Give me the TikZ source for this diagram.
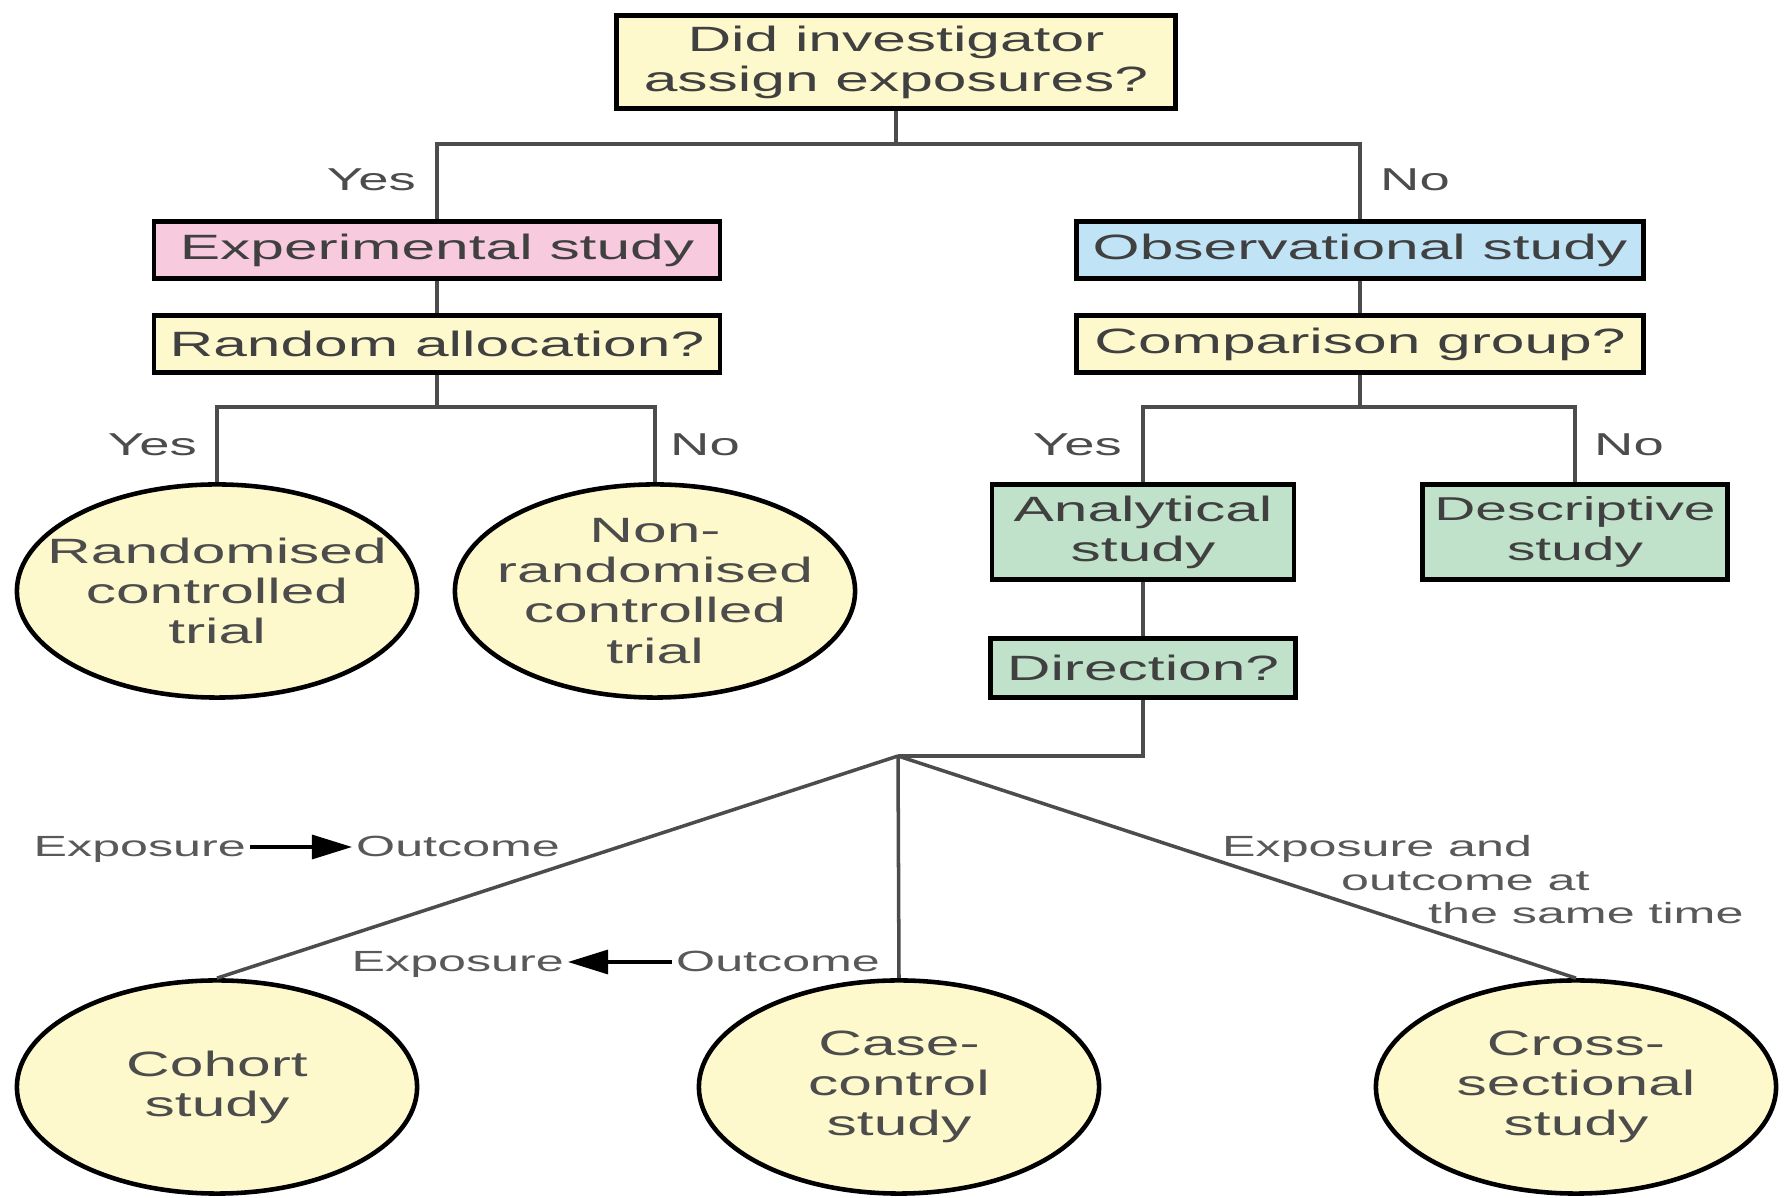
\documentclass[tikz,border=0pt]{standalone}
\usepackage{fontspec}
\setmainfont[FakeStretch=1.72]{Liberation Sans}
\usetikzlibrary{shapes.geometric,arrows.meta}

\definecolor{qyellow}{RGB}{253,249,204}
\definecolor{exppink}{RGB}{248,202,222}
\definecolor{obsblue}{RGB}{192,228,246}
\definecolor{anagreen}{RGB}{192,226,202}

\tikzset{
    qbox/.style={draw=black, line width=1.3pt, fill=qyellow, inner sep=1pt,
        minimum height=0.57cm, align=center, text=black!75,
        font=\fontsize{10}{11.4}\selectfont},
    studycirc/.style={ellipse, draw=black, line width=1.3pt, fill=qyellow,
        minimum width=4cm, minimum height=2.13cm, inner xsep=-0.7cm,
        inner ysep=-0.4cm, align=center, text=black!70,
        font=\fontsize{10}{11.4}\selectfont},
    link/.style={line width=1pt, draw=black!70},
    branch/.style={inner sep=1pt, text=black!70, font=\fontsize{9}{10}\selectfont},
    dirlabel/.style={inner sep=1pt, text=black!65, text height=0.72em,
        text depth=0.2em, font=\fontsize{8.3}{9.6}\selectfont},
    dirarrow/.style={line width=0.9pt, -{Triangle[length=0.4cm, width=0.24cm]}}
}

\begin{document}
\begin{tikzpicture}[x=0.01cm, y=-0.01cm]

        \useasboundingbox (0,0) rectangle (1787,1198);

        \node[qbox, minimum width=5.59cm, minimum height=0.93cm] (assign) at (896,62) {Did investigator\\assign exposures?};

        \node[qbox, fill=exppink, minimum width=5.66cm] (experim) at (437,250) {Experimental study};
        \node[qbox, minimum width=5.66cm] (random) at (437,344) {Random allocation?};

        \node[qbox, fill=obsblue, minimum width=5.67cm] (observ) at (1360,250) {Observational study};
        \node[qbox, minimum width=5.67cm] (compar) at (1360,344) {Comparison group?};

        \node[studycirc] (rct) at (217,591) {Randomised\\controlled\\trial};
        \node[studycirc] (nonrct) at (655,591) {Non-\\randomised\\controlled\\trial};

        \node[qbox, fill=anagreen, minimum width=3.02cm, minimum height=0.95cm] (analyt) at (1143,532) {Analytical\\study};
        \node[qbox, fill=anagreen, minimum width=3.05cm, minimum height=0.95cm,
            font=\fontsize{9.4}{11.4}\selectfont] (descr) at (1575,532) {Descriptive\\study};
        \node[qbox, fill=anagreen, minimum width=3.05cm, minimum height=0.59cm] (direct) at (1143,668) {Direction?};

        \node[studycirc] (cohort) at (217,1087) {Cohort\\study};
        \node[studycirc] (casectl) at (899,1087) {Case-\\control\\study};
        \node[studycirc] (cross) at (1576,1087) {Cross-\\sectional\\study};

        % #######################################

        \coordinate (split1) at (896,144);
        \coordinate (split2) at (437,407);
        \coordinate (split3) at (1360,407);
        \coordinate (split4) at (898,756);

        \draw[link] (assign) -- (split1);
        \draw[link] (experim.north) |- (split1) -| (observ.north);
        \draw[link] (experim) -- (random);
        \draw[link] (random) -- (split2);
        \draw[link] (rct.north) |- (split2) -| (nonrct.north);
        \draw[link] (observ) -- (compar);
        \draw[link] (compar) -- (split3);
        \draw[link] (analyt.north) |- (split3) -| (descr.north);
        \draw[link] (analyt) -- (direct);
        \draw[link] (direct.south) |- (split4);
        \draw[link] (split4) -- (cohort.north);
        \draw[link] (split4) -- (casectl.north);
        \draw[link] (split4) -- (cross.north);

        \node[branch, anchor=east] (yes1) at (420,180) {Yes};
        \node[branch, anchor=west] (no1) at (1376,180) {No};
        \node[branch, anchor=east] (yes2) at (201,445) {Yes};
        \node[branch, anchor=west] (no2) at (666,445) {No};
        \node[branch, anchor=east] (yes3) at (1126,445) {Yes};
        \node[branch, anchor=west] (no3) at (1590,445) {No};

        % #######################################

        \node[dirlabel, anchor=east] (expo1) at (250,847) {Exposure};
        \node[dirlabel, anchor=west] (outc1) at (352,847) {Outcome};
        \draw[dirarrow] (expo1) -- (outc1);

        \node[dirlabel, anchor=east] (expo2) at (568,962) {Exposure};
        \node[dirlabel, anchor=west] (outc2) at (672,962) {Outcome};
        \draw[dirarrow] (outc2) -- (expo2);

        \node[dirlabel, anchor=west] (same1) at (1218,847) {Exposure and};
        \node[dirlabel, anchor=west] (same2) at (1337,881) {outcome at};
        \node[dirlabel, anchor=west] (same3) at (1424,914) {the same time};

    \end{tikzpicture}
\end{document}
